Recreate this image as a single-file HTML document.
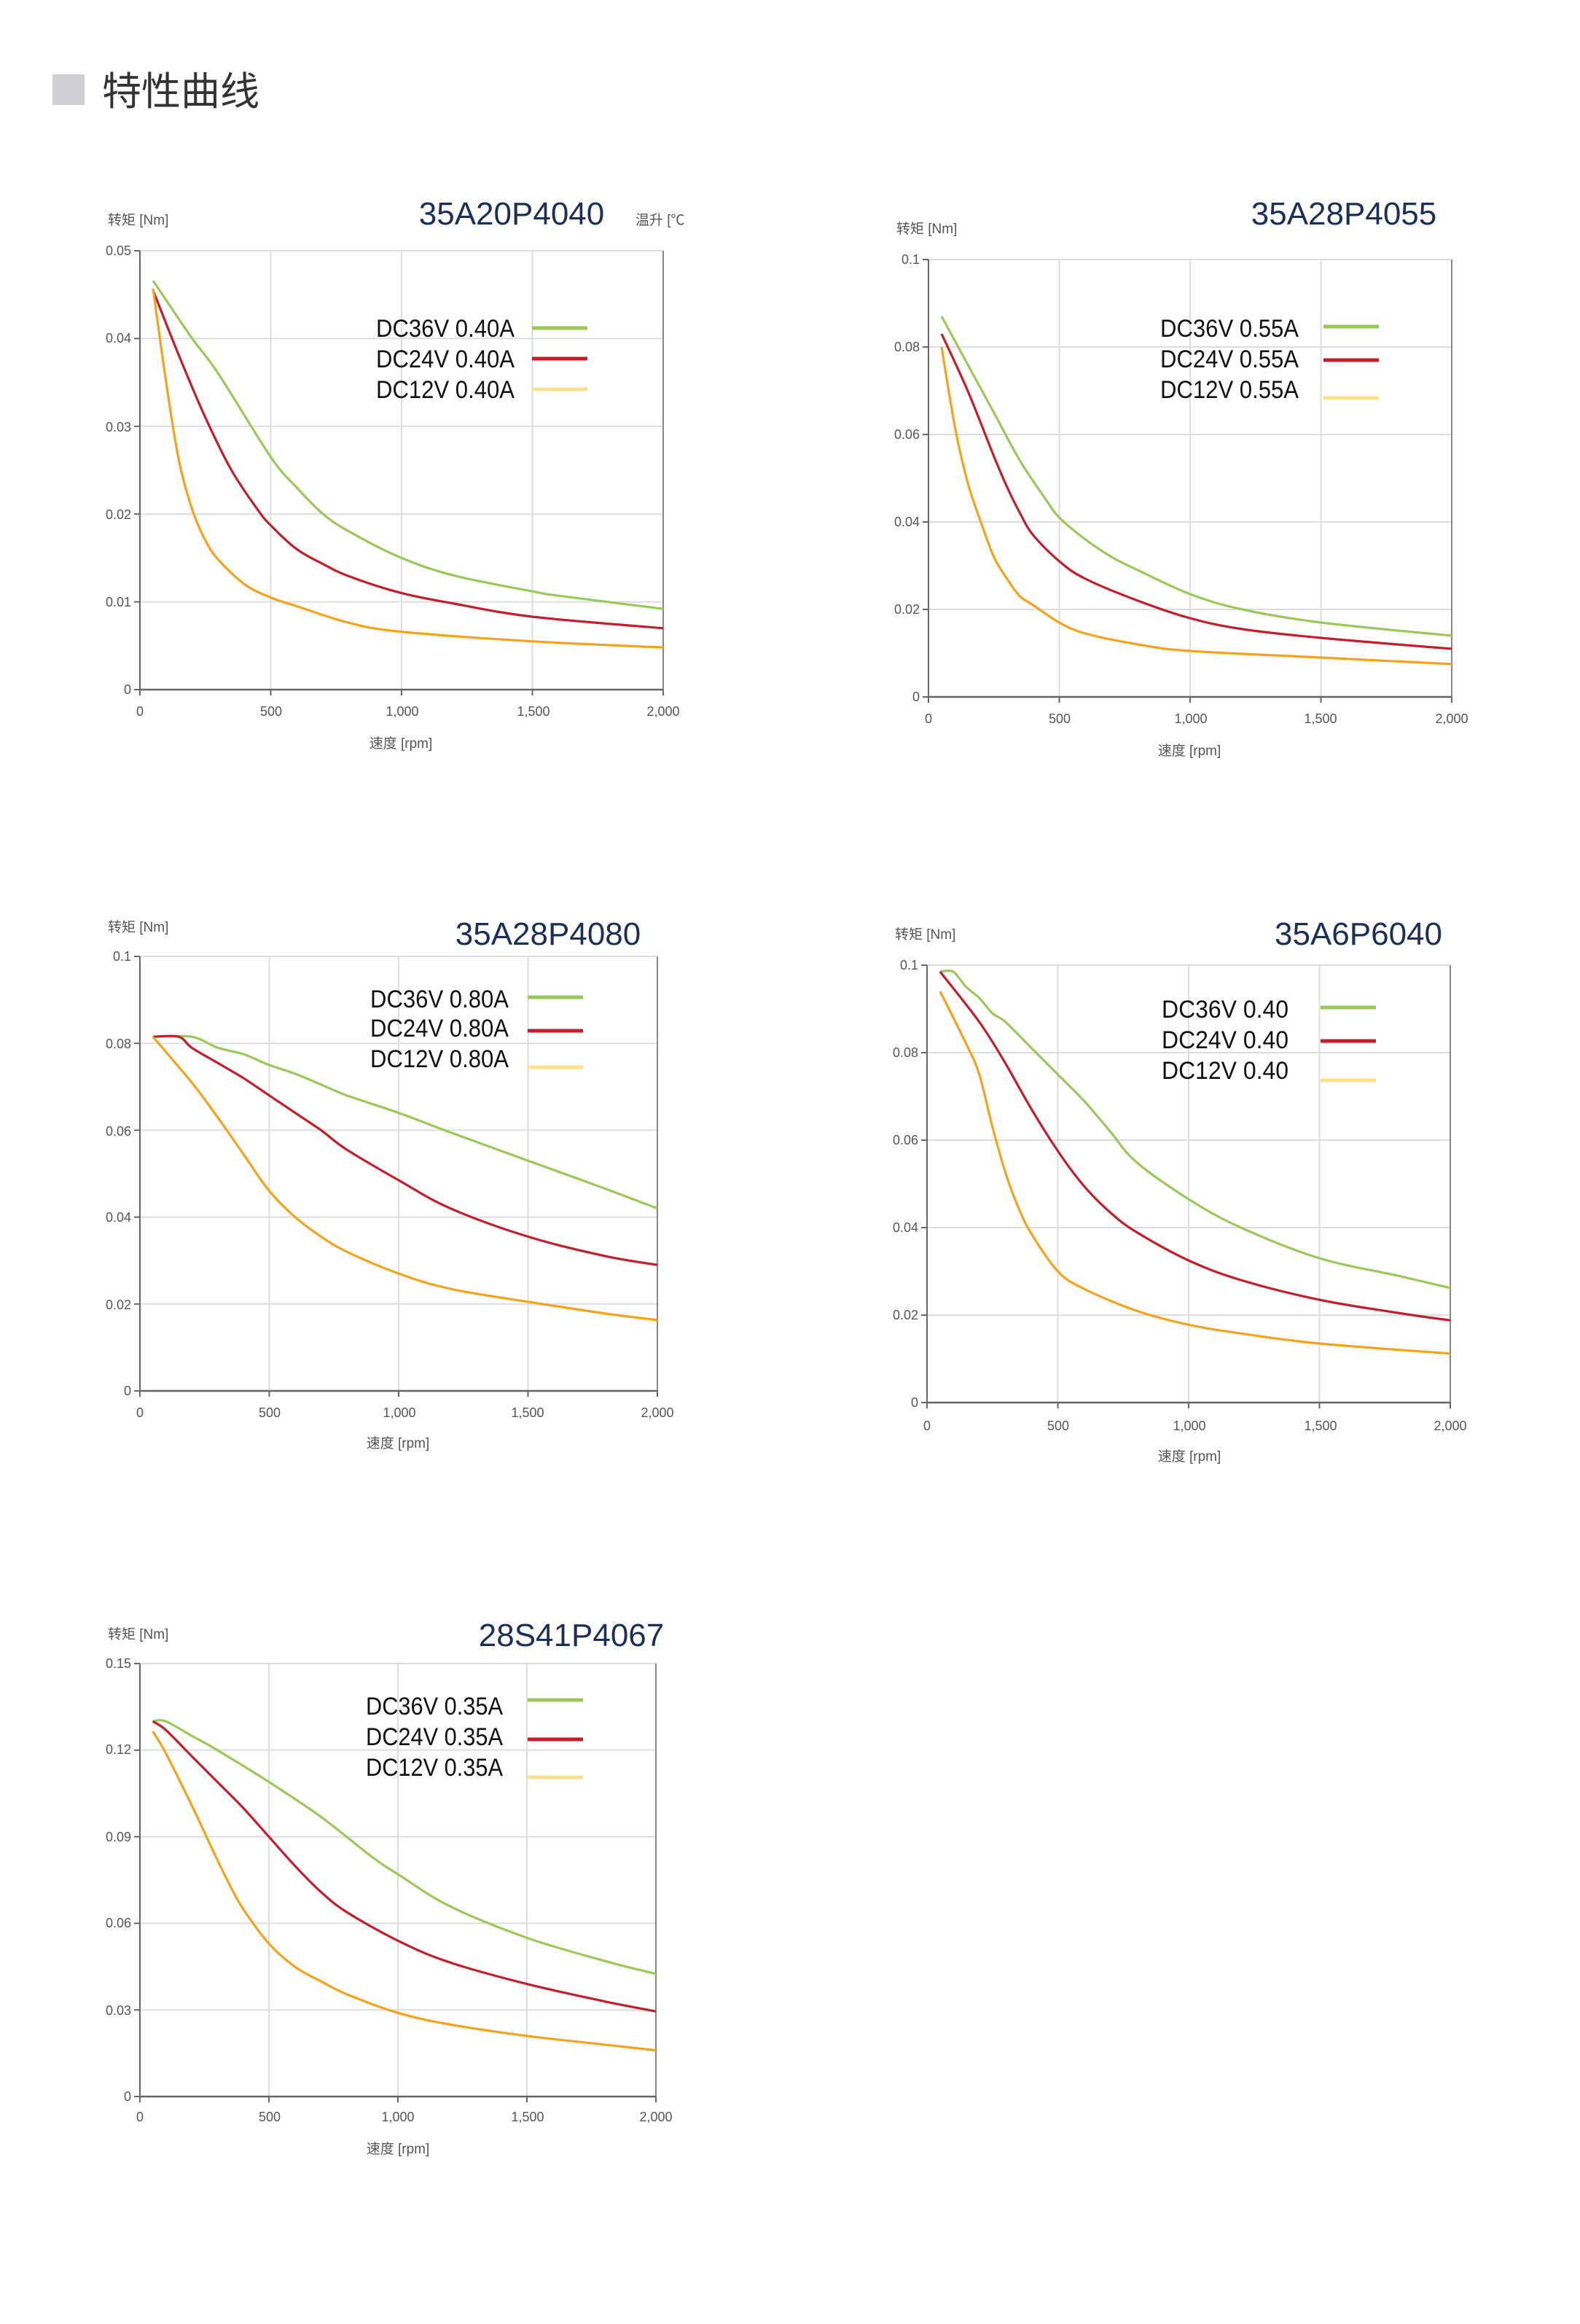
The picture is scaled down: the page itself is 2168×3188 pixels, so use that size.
<!DOCTYPE html>
<html><head><meta charset="utf-8"><style>
html,body{margin:0;padding:0;background:#fff;}
svg{display:block;}
.t{font-family:"Liberation Sans","Noto Sans CJK SC",sans-serif;}
.tk{font-family:"Liberation Sans","Noto Sans CJK SC",sans-serif;font-size:9px;fill:#555;}
.ax{font-family:"Liberation Sans","Noto Sans CJK SC",sans-serif;font-size:9.5px;fill:#555;}
.ti{font-family:"Liberation Sans",sans-serif;font-size:22px;fill:#1b2f5a;}
.lg{font-family:"Liberation Sans",sans-serif;font-size:17px;fill:#111;}
</style></head><body>
<svg id="s" width="2168" height="3188" viewBox="0 0 1084 1594" xmlns="http://www.w3.org/2000/svg">
<rect x="0" y="0" width="1084" height="1594" fill="#fff"/>
<rect x="36" y="51" width="22" height="21" fill="#cfcfd3"/>
<text x="70" y="72" class="t" font-size="27" fill="#333">特性曲线</text>
<g id="g"></g>

<!-- Chart 1 -->
<text x="74" y="154" class="ax">转矩 [Nm]</text>
<text x="351" y="154" class="ti" text-anchor="middle">35A20P4040</text>
<text x="436" y="154" class="ax">温升 [℃</text>
<text x="275" y="513" class="ax" text-anchor="middle">速度 [rpm]</text>
<g class="tk" text-anchor="end">
<text x="90" y="175">0.05</text><text x="90" y="235">0.04</text><text x="90" y="296">0.03</text><text x="90" y="356">0.02</text><text x="90" y="416">0.01</text><text x="90" y="476">0</text></g>
<g class="tk" text-anchor="middle">
<text x="96" y="491">0</text><text x="186" y="491">500</text><text x="276" y="491">1,000</text><text x="366" y="491">1,500</text><text x="455" y="491">2,000</text></g>
<g class="lg"><text x="258" y="231" textLength="95" lengthAdjust="spacingAndGlyphs">DC36V 0.40A</text><text x="258" y="252" textLength="95" lengthAdjust="spacingAndGlyphs">DC24V 0.40A</text><text x="258" y="273" textLength="95" lengthAdjust="spacingAndGlyphs">DC12V 0.40A</text></g>

<!-- Chart 2 -->
<text x="615" y="160" class="ax">转矩 [Nm]</text>
<text x="922" y="154" class="ti" text-anchor="middle">35A28P4055</text>
<text x="816" y="518" class="ax" text-anchor="middle">速度 [rpm]</text>
<g class="tk" text-anchor="end">
<text x="631" y="181">0.1</text><text x="631" y="241">0.08</text><text x="631" y="301">0.06</text><text x="631" y="361">0.04</text><text x="631" y="421">0.02</text><text x="631" y="481">0</text></g>
<g class="tk" text-anchor="middle">
<text x="637" y="496">0</text><text x="727" y="496">500</text><text x="817" y="496">1,000</text><text x="906" y="496">1,500</text><text x="996" y="496">2,000</text></g>
<g class="lg"><text x="796" y="231" textLength="95" lengthAdjust="spacingAndGlyphs">DC36V 0.55A</text><text x="796" y="252" textLength="95" lengthAdjust="spacingAndGlyphs">DC24V 0.55A</text><text x="796" y="273" textLength="95" lengthAdjust="spacingAndGlyphs">DC12V 0.55A</text></g>

<!-- Chart 3 -->
<text x="74" y="639" class="ax">转矩 [Nm]</text>
<text x="376" y="648" class="ti" text-anchor="middle">35A28P4080</text>
<text x="273" y="993" class="ax" text-anchor="middle">速度 [rpm]</text>
<g class="tk" text-anchor="end">
<text x="90" y="659">0.1</text><text x="90" y="719">0.08</text><text x="90" y="779">0.06</text><text x="90" y="838">0.04</text><text x="90" y="898">0.02</text><text x="90" y="957">0</text></g>
<g class="tk" text-anchor="middle">
<text x="96" y="972">0</text><text x="185" y="972">500</text><text x="274" y="972">1,000</text><text x="362" y="972">1,500</text><text x="451" y="972">2,000</text></g>
<g class="lg"><text x="254" y="691" textLength="95" lengthAdjust="spacingAndGlyphs">DC36V 0.80A</text><text x="254" y="711" textLength="95" lengthAdjust="spacingAndGlyphs">DC24V 0.80A</text><text x="254" y="732" textLength="95" lengthAdjust="spacingAndGlyphs">DC12V 0.80A</text></g>

<!-- Chart 4 -->
<text x="614" y="644" class="ax">转矩 [Nm]</text>
<text x="932" y="648" class="ti" text-anchor="middle">35A6P6040</text>
<text x="816" y="1002" class="ax" text-anchor="middle">速度 [rpm]</text>
<g class="tk" text-anchor="end">
<text x="630" y="665">0.1</text><text x="630" y="725">0.08</text><text x="630" y="785">0.06</text><text x="630" y="845">0.04</text><text x="630" y="905">0.02</text><text x="630" y="965">0</text></g>
<g class="tk" text-anchor="middle">
<text x="636" y="981">0</text><text x="726" y="981">500</text><text x="816" y="981">1,000</text><text x="906" y="981">1,500</text><text x="995" y="981">2,000</text></g>
<g class="lg"><text x="797" y="698" textLength="87" lengthAdjust="spacingAndGlyphs">DC36V 0.40</text><text x="797" y="719" textLength="87" lengthAdjust="spacingAndGlyphs">DC24V 0.40</text><text x="797" y="740" textLength="87" lengthAdjust="spacingAndGlyphs">DC12V 0.40</text></g>

<!-- Chart 5 -->
<text x="74" y="1124" class="ax">转矩 [Nm]</text>
<text x="392" y="1129" class="ti" text-anchor="middle">28S41P4067</text>
<text x="273" y="1477" class="ax" text-anchor="middle">速度 [rpm]</text>
<g class="tk" text-anchor="end">
<text x="90" y="1144">0.15</text><text x="90" y="1203">0.12</text><text x="90" y="1263">0.09</text><text x="90" y="1322">0.06</text><text x="90" y="1382">0.03</text><text x="90" y="1441">0</text></g>
<g class="tk" text-anchor="middle">
<text x="96" y="1455">0</text><text x="185" y="1455">500</text><text x="273" y="1455">1,000</text><text x="362" y="1455">1,500</text><text x="450" y="1455">2,000</text></g>
<g class="lg"><text x="251" y="1176" textLength="94" lengthAdjust="spacingAndGlyphs">DC36V 0.35A</text><text x="251" y="1197" textLength="94" lengthAdjust="spacingAndGlyphs">DC24V 0.35A</text><text x="251" y="1218" textLength="94" lengthAdjust="spacingAndGlyphs">DC12V 0.35A</text></g>
</svg>
<script>
var G=document.getElementById('g'),NS='http://www.w3.org/2000/svg';
function el(n,a){var e=document.createElementNS(NS,n);for(var k in a)e.setAttribute(k,a[k]);G.appendChild(e);return e;}
function smooth(P){var d='M'+P[0][0].toFixed(1)+','+P[0][1].toFixed(1);
 for(var i=0;i<P.length-1;i++){var p0=P[i-1]||P[i],p1=P[i],p2=P[i+1],p3=P[i+2]||p2;
  var c1=[p1[0]+(p2[0]-p0[0])/6,p1[1]+(p2[1]-p0[1])/6],c2=[p2[0]-(p3[0]-p1[0])/6,p2[1]-(p3[1]-p1[1])/6];
  d+=' C'+c1[0].toFixed(1)+','+c1[1].toFixed(1)+' '+c2[0].toFixed(1)+','+c2[1].toFixed(1)+' '+p2[0].toFixed(1)+','+p2[1].toFixed(1);}
 return d;}
var C=[
{x0:96,x1:455,y0:172,y1:473,m:.05,lx:365,ly:[225,246,267],
g:[[50,.0466],[200,.040],[300,.036],[500,.0265],[600,.023],[700,.020],[800,.018],[1000,.015],[1200,.013],[1500,.0112],[1600,.0107],[2000,.0092]],
r:[[50,.0455],[150,.038],[250,.031],[350,.025],[450,.0205],[500,.0187],[600,.016],[700,.0143],[800,.0129],[1000,.011],[1200,.0098],[1500,.0083],[2000,.0070]],
o:[[50,.0457],[100,.035],[150,.026],[200,.0205],[250,.017],[300,.0148],[400,.012],[500,.0105],[600,.0095],[800,.0076],[1000,.0066],[1500,.0055],[2000,.0048]]},
{x0:637,x1:996,y0:178,y1:478,m:.1,lx:908,ly:[224,247,273],
g:[[50,.087],[150,.076],[250,.065],[350,.054],[450,.045],[500,.041],[600,.036],[700,.032],[800,.029],[1000,.0235],[1200,.020],[1500,.017],[2000,.014]],
r:[[50,.083],[150,.070],[250,.055],[300,.048],[350,.042],[400,.037],[500,.031],[600,.027],[800,.022],[1000,.018],[1200,.0155],[1500,.0135],[2000,.011]],
o:[[50,.080],[100,.062],[150,.049],[200,.040],[250,.032],[300,.027],[350,.023],[400,.021],[500,.017],[600,.0145],[800,.012],[1000,.0105],[1500,.009],[2000,.0075]]},
{x0:96,x1:451,y0:656,y1:954,m:.1,lx:362,ly:[684,707,732],
g:[[50,.0815],[200,.0815],[300,.079],[400,.0775],[500,.075],[600,.073],[700,.0705],[800,.068],[1000,.064],[1200,.0595],[1500,.053],[1800,.0465],[2000,.042]],
r:[[50,.0815],[150,.0815],[200,.079],[300,.0755],[400,.072],[500,.068],[600,.064],[700,.060],[800,.0555],[1000,.0485],[1200,.042],[1500,.0355],[1800,.031],[2000,.029]],
o:[[50,.0815],[200,.071],[300,.063],[400,.0545],[500,.046],[600,.040],[700,.0355],[800,.032],[1000,.027],[1200,.0235],[1500,.0205],[1800,.0178],[2000,.0163]]},
{x0:636,x1:995,y0:662,y1:962,m:.1,lx:906,ly:[691,714,741],
g:[[50,.0985],[100,.0985],[150,.095],[200,.0925],[250,.089],[300,.087],[400,.081],[500,.075],[600,.069],[700,.062],[800,.055],[1000,.0465],[1200,.040],[1500,.033],[1800,.029],[2000,.0262]],
r:[[50,.0985],[200,.087],[300,.0775],[400,.067],[500,.0575],[600,.0495],[700,.0435],[800,.039],[1000,.0325],[1200,.028],[1500,.0235],[1800,.0205],[2000,.0188]],
o:[[50,.094],[150,.082],[200,.075],[250,.063],[300,.0525],[350,.0445],[400,.0385],[500,.030],[600,.026],[800,.021],[1000,.0178],[1200,.0158],[1500,.0135],[2000,.0112]]},
{x0:96,x1:450,y0:1141,y1:1438,m:.15,lx:362,ly:[1166,1193,1219],
g:[[50,.130],[100,.130],[200,.125],[300,.120],[500,.109],[700,.097],[900,.083],[1000,.077],[1200,.066],[1500,.055],[1800,.047],[2000,.0425]],
r:[[50,.130],[100,.127],[200,.118],[300,.109],[400,.100],[500,.090],[600,.080],[700,.071],[800,.064],[1000,.054],[1200,.0465],[1500,.039],[1800,.033],[2000,.0295]],
o:[[50,.1265],[100,.119],[200,.101],[300,.082],[350,.073],[400,.065],[500,.053],[600,.045],[700,.040],[800,.0355],[1000,.029],[1200,.025],[1500,.021],[1800,.018],[2000,.016]]}];
C.forEach(function(c){
 var W=c.x1-c.x0,H=c.y1-c.y0;
 for(var i=0;i<=5;i++){var y=c.y0+H*i/5;el('line',{x1:c.x0,x2:c.x1,y1:y,y2:y,stroke:'#ddd','stroke-width':1});el('line',{x1:c.x0-4,x2:c.x0,y1:y,y2:y,stroke:'#666','stroke-width':1});}
 for(var i=0;i<=4;i++){var x=c.x0+W*i/4;el('line',{x1:x,x2:x,y1:c.y0,y2:c.y1,stroke:'#ddd','stroke-width':1});el('line',{x1:x,x2:x,y1:c.y1,y2:c.y1+4,stroke:'#666','stroke-width':1});}
 el('line',{x1:c.x0,x2:c.x0,y1:c.y0,y2:c.y1,stroke:'#666','stroke-width':1});
 el('line',{x1:c.x1,x2:c.x1,y1:c.y0,y2:c.y1,stroke:'#888','stroke-width':1});
 el('line',{x1:c.x0,x2:c.x1,y1:c.y1,y2:c.y1,stroke:'#666','stroke-width':1.2});
 [['g','#9cc85a'],['r','#c41e2a'],['o','#f5a31a']].forEach(function(s){
  var P=c[s[0]].map(function(d){return [c.x0+W*d[0]/2000,c.y1-H*d[1]/c.m];});
  el('path',{d:smooth(P),fill:'none',stroke:s[1],'stroke-width':1.6,'stroke-linejoin':'round'});
 });
 [['#9cc85a'],['#c41e2a'],['#fde08c']].forEach(function(s,i){el('line',{x1:c.lx,x2:c.lx+38,y1:c.ly[i],y2:c.ly[i],stroke:s[0],'stroke-width':2.5});});
});
</script>
</body></html>
